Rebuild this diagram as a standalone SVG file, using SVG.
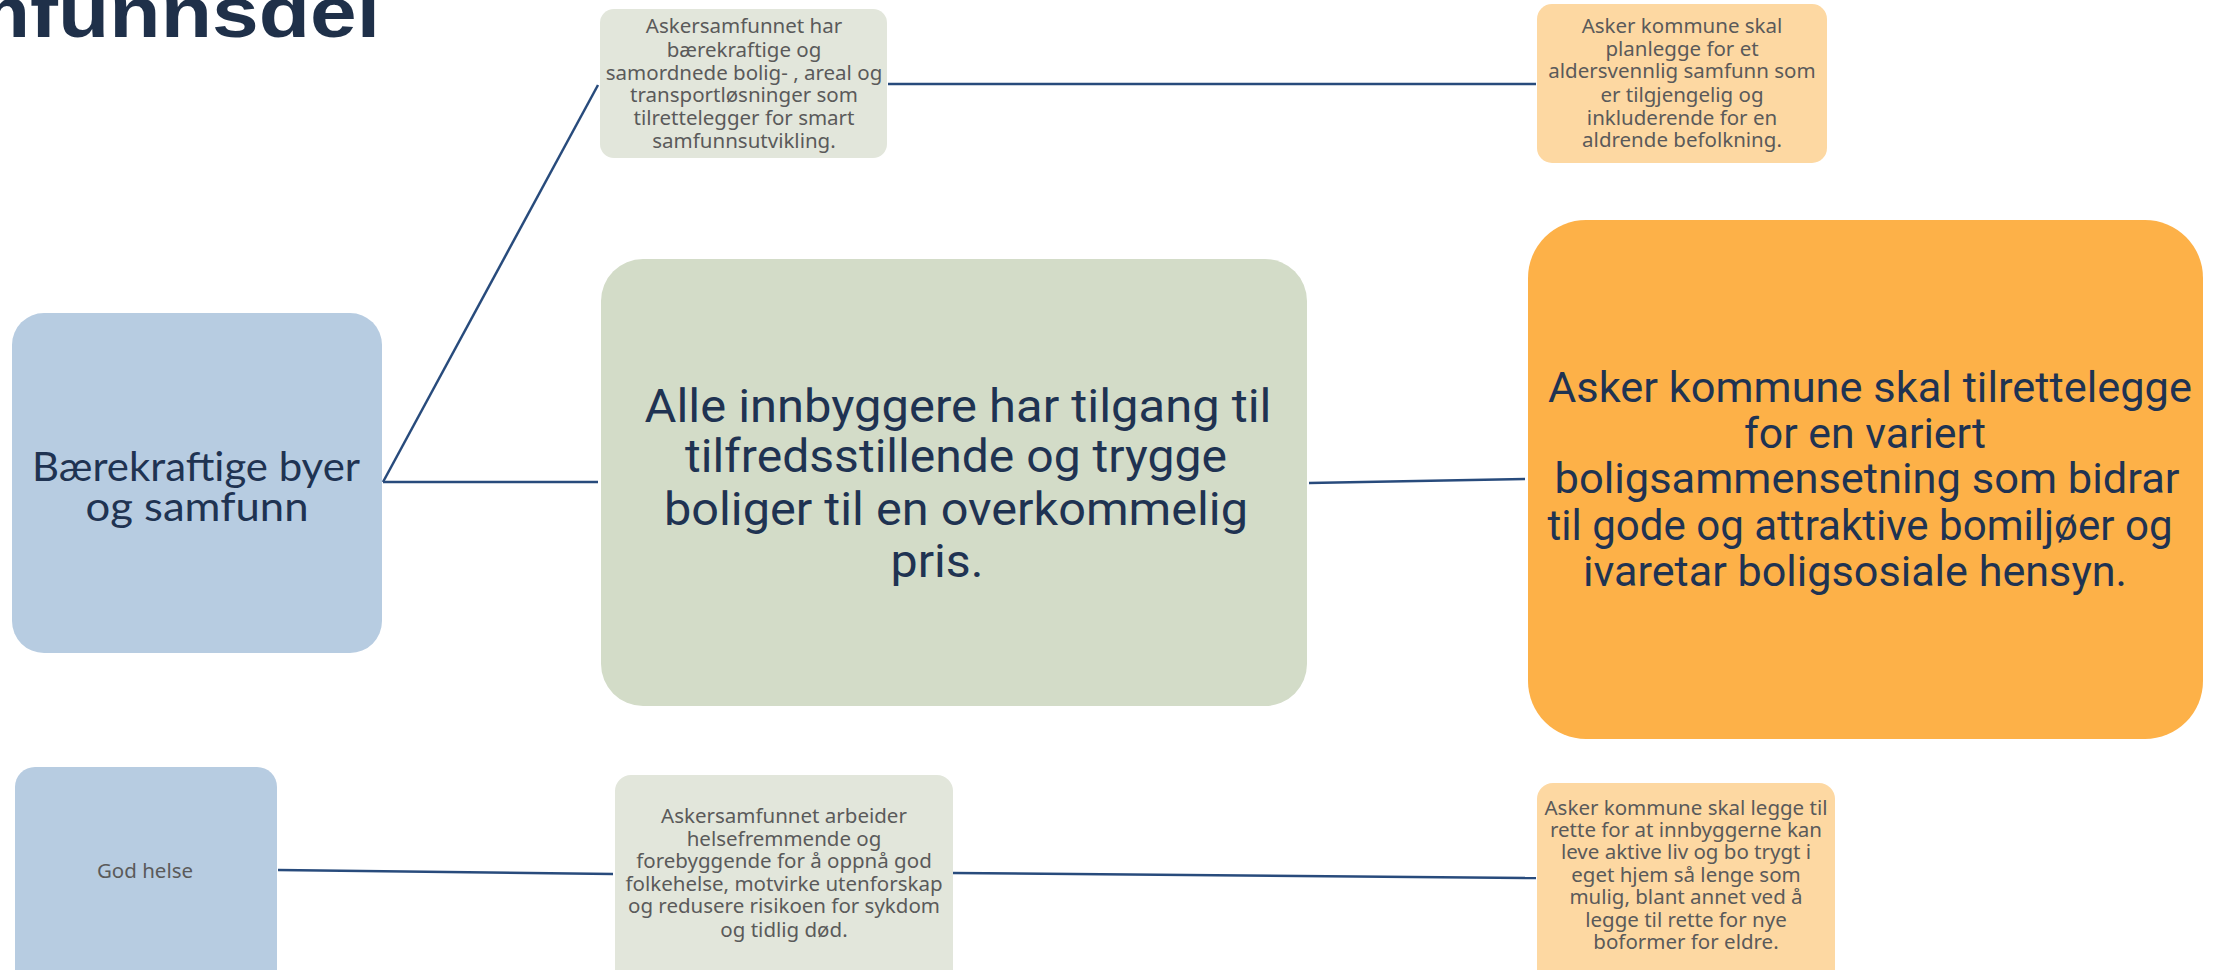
<svg xmlns="http://www.w3.org/2000/svg" width="2223" height="970" viewBox="0 0 2223 970">
<style>
.blue{fill:#b7cce1}
.gbig{fill:#d3dcc8}
.gsm{fill:#e2e6db}
.obig{fill:#fdb148}
.osm{fill:#fdd8a2}
.big{font-family:Roboto,"Noto Sans",sans-serif;fill:#1f3352;text-anchor:middle}
.lato{font-family:Lato,"Noto Sans",sans-serif;fill:#1f3352;text-anchor:middle;font-size:41px}
.sm{font-family:"Noto Sans","Open Sans",sans-serif;fill:#5a5a5a;text-anchor:middle;font-size:20.5px}
.title{font-family:"Liberation Sans",Arial,sans-serif;font-weight:bold;fill:#1f3049;font-size:72px}
.conn{stroke:#284b7c;stroke-width:2.5;fill:none}
</style>
<rect width="2223" height="970" fill="#ffffff"/>
<text class="title" x="-138" y="37" textLength="518" lengthAdjust="spacingAndGlyphs">samfunnsdel</text>
<g id="connectors">
<line class="conn" x1="383" y1="482" x2="598" y2="85"/>
<line class="conn" x1="383" y1="482" x2="598" y2="482"/>
<line class="conn" x1="888" y1="84" x2="1536" y2="84"/>
<line class="conn" x1="1309" y1="483" x2="1525" y2="479"/>
<line class="conn" x1="278" y1="870" x2="613" y2="874"/>
<line class="conn" x1="953" y1="873" x2="1536" y2="878"/>
</g>
<g id="node-barekraftige">
<rect class="blue" x="12" y="313" width="370" height="340" rx="32"/>
<text class="lato"><tspan x="196" y="481" textLength="328" lengthAdjust="spacingAndGlyphs">Bærekraftige byer</tspan><tspan x="197" y="521" textLength="223" lengthAdjust="spacingAndGlyphs">og samfunn</tspan></text>
</g>
<g id="node-askersamfunnet-bolig">
<rect class="gsm" x="600" y="9" width="287" height="149" rx="14"/>
<text class="sm"><tspan x="744" y="33">Askersamfunnet har</tspan><tspan x="744" y="57">bærekraftige og</tspan><tspan x="744" y="80">samordnede bolig- , areal og</tspan><tspan x="744" y="102">transportløsninger som</tspan><tspan x="744" y="125">tilrettelegger for smart</tspan><tspan x="744" y="148">samfunnsutvikling.</tspan></text>
</g>
<g id="node-aldersvennlig">
<rect class="osm" x="1537" y="4" width="290" height="159" rx="15"/>
<text class="sm"><tspan x="1682" y="33">Asker kommune skal</tspan><tspan x="1682" y="56">planlegge for et</tspan><tspan x="1682" y="78">aldersvennlig samfunn som</tspan><tspan x="1682" y="102">er tilgjengelig og</tspan><tspan x="1682" y="125">inkluderende for en</tspan><tspan x="1682" y="147">aldrende befolkning.</tspan></text>
</g>
<g id="node-alle-innbyggere">
<rect class="gbig" x="601" y="259" width="706" height="447" rx="42"/>
<text class="big" font-size="47"><tspan x="958" y="422" textLength="627" lengthAdjust="spacingAndGlyphs">Alle innbyggere har tilgang til</tspan><tspan x="956" y="472" textLength="542" lengthAdjust="spacingAndGlyphs">tilfredsstillende og trygge</tspan><tspan x="956" y="525" textLength="584" lengthAdjust="spacingAndGlyphs">boliger til en overkommelig</tspan><tspan x="937" y="577" textLength="93" lengthAdjust="spacingAndGlyphs">pris.</tspan></text>
</g>
<g id="node-variert-bolig">
<rect class="obig" x="1528" y="220" width="675" height="519" rx="58"/>
<text class="big" font-size="42"><tspan x="1870" y="402" textLength="644" lengthAdjust="spacingAndGlyphs">Asker kommune skal tilrettelegge</tspan><tspan x="1865" y="448" textLength="242" lengthAdjust="spacingAndGlyphs">for en variert</tspan><tspan x="1867" y="493" textLength="625" lengthAdjust="spacingAndGlyphs">boligsammensetning som bidrar</tspan><tspan x="1860" y="540" textLength="625" lengthAdjust="spacingAndGlyphs">til gode og attraktive bomiljøer og</tspan><tspan x="1855" y="586" textLength="544" lengthAdjust="spacingAndGlyphs">ivaretar boligsosiale hensyn.</tspan></text>
</g>
<g id="node-god-helse">
<rect class="blue" x="15" y="767" width="262" height="230" rx="20"/>
<text class="sm"><tspan x="145" y="878">God helse</tspan></text>
</g>
<g id="node-helsefremmende">
<rect class="gsm" x="615" y="775" width="338" height="220" rx="16"/>
<text class="sm"><tspan x="784" y="823">Askersamfunnet arbeider</tspan><tspan x="784" y="846">helsefremmende og</tspan><tspan x="784" y="868">forebyggende for å oppnå god</tspan><tspan x="784" y="891">folkehelse, motvirke utenforskap</tspan><tspan x="784" y="913">og redusere risikoen for sykdom</tspan><tspan x="784" y="937">og tidlig død.</tspan></text>
</g>
<g id="node-bo-trygt">
<rect class="osm" x="1537" y="783" width="298" height="210" rx="16"/>
<text class="sm"><tspan x="1686" y="815">Asker kommune skal legge til</tspan><tspan x="1686" y="837">rette for at innbyggerne kan</tspan><tspan x="1686" y="859">leve aktive liv og bo trygt i</tspan><tspan x="1686" y="882">eget hjem så lenge som</tspan><tspan x="1686" y="904">mulig, blant annet ved å</tspan><tspan x="1686" y="927">legge til rette for nye</tspan><tspan x="1686" y="949">boformer for eldre.</tspan></text>
</g>
</svg>
